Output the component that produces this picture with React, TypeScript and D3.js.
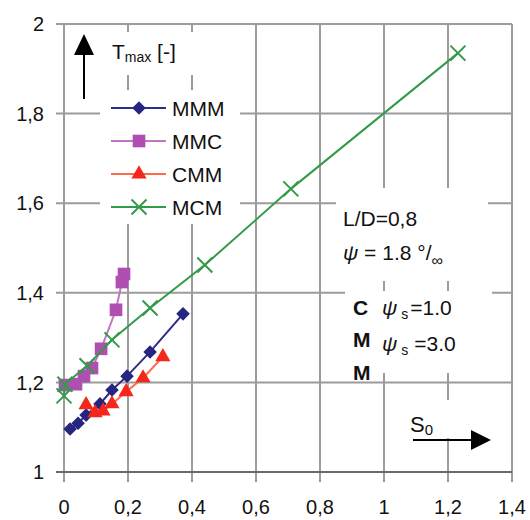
import React, { useEffect, useRef } from "react";
import * as d3 from "d3";

const xTicks = [0, 0.2, 0.4, 0.6, 0.8, 1, 1.2, 1.4];
const xTickLabels = ["0", "0,2", "0,4", "0,6", "0,8", "1", "1,2", "1,4"];
const yTicks = [1, 1.2, 1.4, 1.6, 1.8, 2];
const yTickLabels = ["1", "1,2", "1,4", "1,6", "1,8", "2"];

const mmmX = [0.019, 0.044, 0.069, 0.1125, 0.15, 0.197, 0.269, 0.372];
const mmmY = [1.096, 1.109, 1.127, 1.152, 1.183, 1.214, 1.268, 1.353];
const mmcX = [0.003, 0.0375, 0.0625, 0.0875, 0.116, 0.1625, 0.181, 0.1875];
const mmcY = [1.194, 1.196, 1.214, 1.232, 1.275, 1.362, 1.424, 1.442];
const cmmX = [0.069, 0.097, 0.122, 0.15, 0.194, 0.247, 0.309];
const cmmY = [1.15, 1.132, 1.136, 1.152, 1.179, 1.21, 1.257];
const mcmX = [0, 0.003, 0.072, 0.15, 0.269, 0.44, 0.709, 1.231];
const mcmY = [1.17, 1.196, 1.237, 1.295, 1.366, 1.462, 1.632, 1.935];

const seriesNames = ["MMM", "MMC", "CMM", "MCM"];

const FONT = "'Liberation Sans', Arial, sans-serif";

const App = () => {
  const svgRef = useRef<SVGSVGElement>(null);

  useEffect(() => {
    const svg = d3.select(svgRef.current);
    svg.selectAll("*").remove();

    const x = d3.scaleLinear().domain([0, 1.4]).range([64, 512]);
    const y = d3.scaleLinear().domain([1, 2]).range([472, 24]);

    const grid = svg.append("g");
    // vertical grid lines, with the tick below the axis
    grid
      .selectAll(".vg")
      .data(xTicks)
      .enter()
      .append("line")
      .attr("x1", (d) => x(d))
      .attr("x2", (d) => x(d))
      .attr("y1", y(2))
      .attr("y2", y(1) + 10)
      .attr("stroke", "#9c9c9c")
      .attr("stroke-width", 2);
    // horizontal grid lines, with the tick left of the axis
    grid
      .selectAll(".hg")
      .data(yTicks)
      .enter()
      .append("line")
      .attr("x1", x(0) - 8)
      .attr("x2", x(1.4))
      .attr("y1", (d) => y(d))
      .attr("y2", (d) => y(d))
      .attr("stroke", (d) => (d === 1 ? "#6a6a6a" : "#9c9c9c"))
      .attr("stroke-width", 2);

    // white boxes behind the labels
    const boxes = [
      [70, 32, 130, 43],
      [100, 90, 140, 134],
      [336, 188, 152, 93],
      [345, 291, 147, 82],
      [405, 400, 90, 38],
    ];
    svg
      .selectAll(".box")
      .data(boxes)
      .enter()
      .append("rect")
      .attr("x", (d) => d[0])
      .attr("y", (d) => d[1])
      .attr("width", (d) => d[2])
      .attr("height", (d) => d[3])
      .attr("fill", "#fff");

    // tick labels
    svg
      .selectAll(".xl")
      .data(xTicks)
      .enter()
      .append("text")
      .attr("x", (d) => x(d))
      .attr("y", 514)
      .attr("text-anchor", "middle")
      .attr("font-family", FONT)
      .attr("font-size", 20)
      .attr("fill", "#111")
      .text((d, i) => xTickLabels[i]);
    svg
      .selectAll(".yl")
      .data(yTicks)
      .enter()
      .append("text")
      .attr("x", 44)
      .attr("y", (d) => y(d))
      .attr("dy", "0.36em")
      .attr("text-anchor", "end")
      .attr("font-family", FONT)
      .attr("font-size", 20)
      .attr("fill", "#111")
      .text((d, i) => yTickLabels[i]);

    const series = [
      { xs: mmmX, ys: mmmY, line: "#2e2e86", fill: "#262680", kind: "diamond" },
      { xs: mmcX, ys: mmcY, line: "#c176c4", fill: "#b04fb2", kind: "square" },
      { xs: cmmX, ys: cmmY, line: "#ff6a4a", fill: "#f5261a", kind: "triangle" },
      { xs: mcmX, ys: mcmY, line: "#339a48", fill: "#339a48", kind: "x" },
    ];

    const line = d3
      .line<number>()
      .x((d) => d[0])
      .y((d) => d[1]);

    const drawMarker = (g, kind, cx, cy, s) => {
      if (kind === "x") {
        const r = 7.5;
        g.append("path")
          .attr("d", `M${cx - r},${cy - r}L${cx + r},${cy + r}M${cx - r},${cy + r}L${cx + r},${cy - r}`)
          .attr("stroke", s.fill)
          .attr("stroke-width", 2)
          .attr("fill", "none");
        return;
      }
      let sym;
      let rot = 0;
      if (kind === "diamond") {
        sym = d3.symbol().type(d3.symbolSquare).size(92);
        rot = 45;
      } else if (kind === "square") {
        sym = d3.symbol().type(d3.symbolSquare).size(160);
      } else {
        sym = d3.symbol().type(d3.symbolTriangle).size(100);
      }
      g.append("path")
        .attr("d", sym())
        .attr("transform", `translate(${cx},${cy}) rotate(${rot})`)
        .attr("fill", s.fill);
    };

    series.forEach((s) => {
      const pts = s.xs.map((v, i) => [x(v), y(s.ys[i])]);
      const g = svg.append("g");
      g.append("path")
        .attr("d", line(pts))
        .attr("fill", "none")
        .attr("stroke", s.line)
        .attr("stroke-width", 2);
      pts.forEach((p) => drawMarker(g, s.kind, p[0], p[1], s));
    });

    // legend
    const legendRows = [108, 141, 174, 207];
    series.forEach((s, i) => {
      const g = svg.append("g");
      const ly = legendRows[i];
      g.append("line")
        .attr("x1", 111)
        .attr("x2", 166)
        .attr("y1", ly)
        .attr("y2", ly)
        .attr("stroke", s.line)
        .attr("stroke-width", 2);
      drawMarker(g, s.kind, 139, ly, s);
      g.append("text")
        .attr("x", 172)
        .attr("y", ly + 8)
        .attr("font-family", FONT)
        .attr("font-size", 21)
        .attr("fill", "#111")
        .text(seriesNames[i]);
    });

    // y axis label with arrow
    svg
      .append("line")
      .attr("x1", 84)
      .attr("x2", 84)
      .attr("y1", 99)
      .attr("y2", 50)
      .attr("stroke", "#000")
      .attr("stroke-width", 2);
    svg.append("polygon").attr("points", "74,55 84,34 94,55").attr("fill", "#000");
    const tl = svg
      .append("text")
      .attr("x", 112)
      .attr("y", 59)
      .attr("font-family", FONT)
      .attr("font-size", 21)
      .attr("fill", "#111");
    tl.append("tspan").text("T");
    tl.append("tspan").attr("font-size", 14).attr("dy", 3).text("max");
    tl.append("tspan").attr("dy", -3).text(" [-]");

    // x axis label with arrow
    const sl = svg
      .append("text")
      .attr("x", 410)
      .attr("y", 432)
      .attr("font-family", FONT)
      .attr("font-size", 22)
      .attr("fill", "#111");
    sl.append("tspan").text("S");
    sl.append("tspan").attr("font-size", 15).attr("dy", 3).text("0");
    svg
      .append("line")
      .attr("x1", 413)
      .attr("x2", 474)
      .attr("y1", 440)
      .attr("y2", 440)
      .attr("stroke", "#000")
      .attr("stroke-width", 2);
    svg.append("polygon").attr("points", "471,430 491,440 471,450").attr("fill", "#000");

    // annotation
    const ann = svg
      .append("g")
      .attr("font-family", FONT)
      .attr("font-size", 21)
      .attr("fill", "#111");
    ann.append("text").attr("x", 343).attr("y", 226).text("L/D=0,8");
    const psi = ann.append("text").attr("x", 343).attr("y", 260);
    psi.append("tspan").attr("font-style", "italic").text("\u03c8");
    psi.append("tspan").text(" = 1.8 \u00b0/");
    psi.append("tspan").attr("font-size", 16).attr("dy", 6).text("\u221e");

    ann.append("text").attr("x", 353).attr("y", 315).attr("font-weight", "bold").text("C");
    ann.append("text").attr("x", 353).attr("y", 347).attr("font-weight", "bold").text("M");
    ann.append("text").attr("x", 353).attr("y", 380).attr("font-weight", "bold").text("M");

    const r1 = ann.append("text").attr("x", 382).attr("y", 315);
    r1.append("tspan").attr("font-style", "italic").text("\u03c8");
    r1.append("tspan").attr("font-size", 14).attr("dy", 4).attr("dx", 4).text("s");
    r1.append("tspan").attr("dy", -4).attr("dx", 2).text("=1.0");

    const r2 = ann.append("text").attr("x", 382).attr("y", 351);
    r2.append("tspan").attr("font-style", "italic").text("\u03c8");
    r2.append("tspan").attr("font-size", 14).attr("dy", 4).attr("dx", 4).text("s");
    r2.append("tspan").attr("dy", -4).attr("dx", 6).text("=3.0");
  }, []);

  return (
    <svg
      ref={svgRef}
      width={530}
      height={520}
      style={{ position: "absolute", left: 0, top: 0, background: "#fff" }}
    ></svg>
  );
};

export default App;
